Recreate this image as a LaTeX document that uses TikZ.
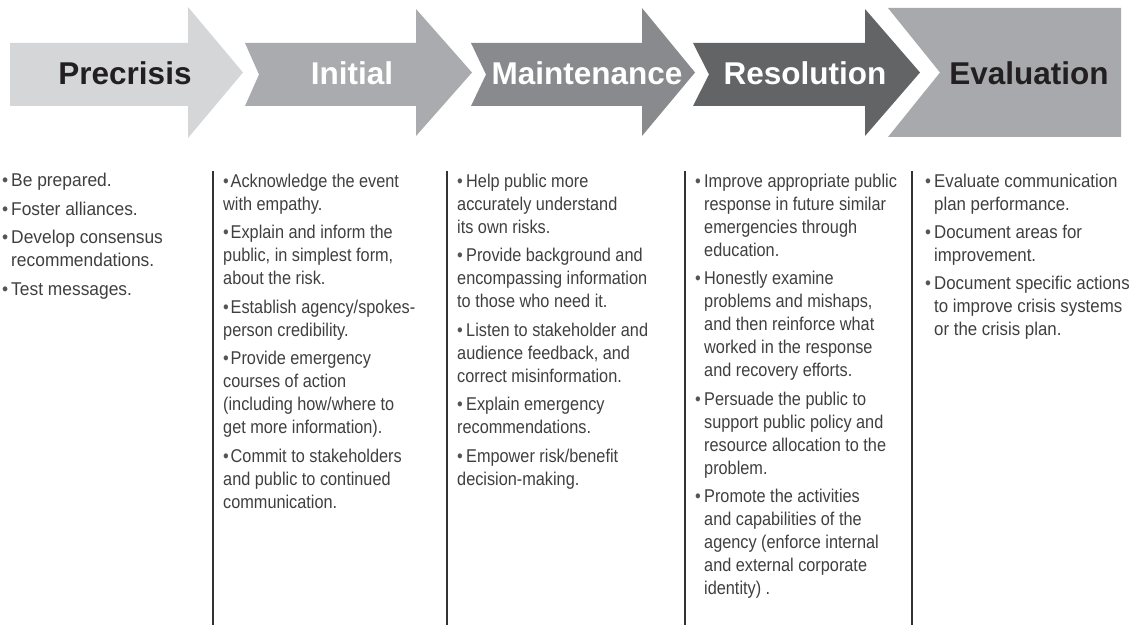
\documentclass[tikz,border=0pt]{standalone}
\usepackage{fontspec}
\setmainfont{Liberation Sans}
\newfontfamily\bodyfont[FakeStretch=0.88]{Liberation Sans}
\newfontfamily\bodyfontw[FakeStretch=0.94]{Liberation Sans}
\newfontfamily\bodyfontm[FakeStretch=0.91]{Liberation Sans}
\definecolor{cPre}{HTML}{D5D6D8}
\definecolor{cIni}{HTML}{AAABAE}
\definecolor{cMai}{HTML}{898A8D}
\definecolor{cRes}{HTML}{636466}
\definecolor{cEva}{HTML}{A8A9AC}
\definecolor{ink}{HTML}{231F20}
\definecolor{bodygray}{HTML}{3F3F40}
\definecolor{bulgray}{HTML}{555556}
\definecolor{linegray}{HTML}{333334}
\newcommand{\bul}{\makebox[9pt][l]{\textcolor{bulgray}{\textbullet}}}
\newcommand{\bult}{\makebox[7.5pt][l]{\textcolor{bulgray}{\textbullet}}}
\newcommand{\hi}{\hspace*{9pt}}
\begin{document}
\begin{tikzpicture}[x=1pt,y=-1pt,
  hdr/.style={font=\fontsize{31.5}{36}\selectfont\bfseries, anchor=base, inner sep=0pt},
  col/.style={font=\bodyfont\fontsize{18.5}{23}\selectfont, text=bodygray, align=left, anchor=base west, inner sep=0pt},
  divider/.style={draw=linegray, line width=1.7pt}]
\useasboundingbox (0,0) rectangle (1133,644);
% arrows
\fill[cPre] (10,43) -- (188,43) -- (188,7) -- (243,72.5) -- (188,138) -- (188,106) -- (10,106) -- cycle;
\fill[cIni] (245,43) -- (416,43) -- (416,9) -- (472,72.5) -- (416,136) -- (416,106) -- (245,106) -- (259,74.5) -- cycle;
\fill[cMai] (471,43) -- (642,43) -- (642,8) -- (695,72.5) -- (642,136) -- (642,106) -- (471,106) -- (486,74.5) -- cycle;
\fill[cRes] (693,43) -- (865,43) -- (865,9) -- (920,72.5) -- (865,136) -- (865,106) -- (693,106) -- (709,74.5) -- cycle;
\fill[cEva] (888,8) -- (1121,8) -- (1121,137) -- (888,137) -- (940,72.5) -- cycle;
% headers
\node[hdr, text=ink] (hpre) at (125,84.5) {Precrisis};
\node[hdr, text=white] (hini) at (352,84.5) {Initial};
\node[hdr, text=white] (hmai) at (587,84.5) {Maintenance};
\node[hdr, text=white] (hres) at (805,84.5) {Resolution};
\node[hdr, text=ink] (heva) at (1029,84.5) {Evaluation};
% dividers
\coordinate (d1t) at (213,171); \coordinate (d1b) at (213,625);
\coordinate (d2t) at (447,171); \coordinate (d2b) at (447,625);
\coordinate (d3t) at (685,171); \coordinate (d3b) at (685,625);
\coordinate (d4t) at (912,171); \coordinate (d4b) at (912,625);
\draw[divider] (d1t) -- (d1b);
\draw[divider] (d2t) -- (d2b);
\draw[divider] (d3t) -- (d3b);
\draw[divider] (d4t) -- (d4b);
% columns (anchored at the baseline of their last line)
\node[col, font=\bodyfontw\fontsize{18.5}{23}\selectfont] (c1) at (2,295.5) {\bul Be prepared.\\[5.5pt]
\bul Foster alliances.\\[5.5pt]
\bul Develop consensus\\
\hi recommendations.\\[5.5pt]
\bul Test messages.};
\node[col] (c2) at (223,508) {\bult Acknowledge the event\\
with empathy.\\[5.5pt]
\bult Explain and inform the\\
public, in simplest form,\\
about the risk.\\[5.5pt]
\bult Establish agency/spokes-\\
person credibility.\\[5.5pt]
\bult Provide emergency\\
courses of action\\
(including how/where to\\
get more information).\\[5.5pt]
\bult Commit to stakeholders\\
and public to continued\\
communication.};
\node[col] (c3) at (457,485) {\bul Help public more\\
accurately understand\\
its own risks.\\[5.5pt]
\bul Provide background and\\
encompassing information\\
to those who need it.\\[5.5pt]
\bul Listen to stakeholder and\\
audience feedback, and\\
correct misinformation.\\[5.5pt]
\bul Explain emergency\\
recommendations.\\[5.5pt]
\bul Empower risk/benefit\\
decision-making.};
\node[col] (c4) at (695,594.5) {\bul Improve appropriate public\\
\hi response in future similar\\
\hi emergencies through\\
\hi education.\\[5.5pt]
\bul Honestly examine\\
\hi problems and mishaps,\\
\hi and then reinforce what\\
\hi worked in the response\\
\hi and recovery efforts.\\[5.5pt]
\bul Persuade the public to\\
\hi support public policy and\\
\hi resource allocation to the\\
\hi problem.\\[5.5pt]
\bul Promote the activities\\
\hi and capabilities of the\\
\hi agency (enforce internal\\
\hi and external corporate\\
\hi identity) .};
\node[col, font=\bodyfontm\fontsize{18.5}{23}\selectfont] (c5) at (925,336) {\bul Evaluate communication\\
\hi plan performance.\\[5.5pt]
\bul Document areas for\\
\hi improvement.\\[5.5pt]
\bul Document specific actions\\
\hi to improve crisis systems\\
\hi or the crisis plan.};
\end{tikzpicture}
\end{document}
